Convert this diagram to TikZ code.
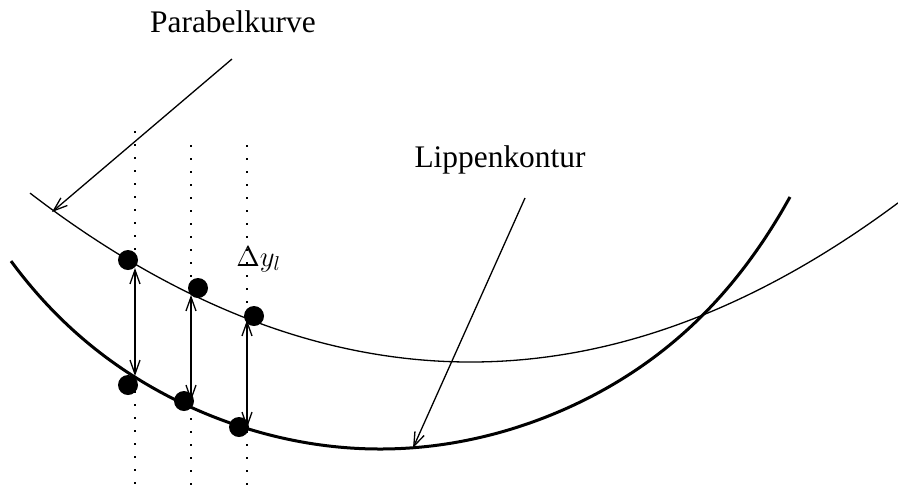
\documentclass[tikz,border=0pt]{standalone}
\usepackage{fontspec}
\setmainfont{Liberation Serif}
\usetikzlibrary{arrows.meta}

\begin{document}
\begin{tikzpicture}[x=0.5pt, y=-0.5pt, >={Straight Barb[length=7pt,width=5pt]},
  dot/.style={circle, fill, inner sep=0pt, minimum size=10pt},
  guide/.style={line width=0.6pt, dash pattern=on 1.2pt off 5.3pt},
  label/.style={inner sep=0pt, anchor=base, font=\fontsize{15.7}{18}\selectfont}]

\useasboundingbox (0,0) rectangle (898,489);

% Hilfslinien
\draw[guide] (135,131) -- (135,489);
\draw[guide] (191,145) -- (191,489);
\draw[guide] (247,145) -- (247,489);

% Parabel und Lippenkontur
\draw[line width=0.65pt] plot[domain=30:898, samples=80, smooth]
  (\x, {362 - 8.705*((\x-470.5)/100)^2});
\draw[line width=1.5pt] plot[domain=11:790, samples=90, smooth]
  (\x, {449 - 11.53*((\x-380)/100)^2 - 0.01226*(((\x-380)/100)^2)^3});

% Punkte
\node[dot] (p1) at (128,260) {};
\node[dot] (p2) at (198,288) {};
\node[dot] (p3) at (254,316) {};
\node[dot] (l1) at (128,385) {};
\node[dot] (l2) at (184,401) {};
\node[dot] (l3) at (239,427) {};

\coordinate (o1) at (135,268);
\coordinate (u1) at (135,376);
\coordinate (o2) at (191,295);
\coordinate (u2) at (191,401);
\coordinate (o3) at (247,320);
\coordinate (u3) at (247,428);

\draw[<->, line width=0.65pt] (o1) -- (u1);
\draw[<->, line width=0.65pt] (o2) -- (u2);
\draw[<->, line width=0.65pt] (o3) -- (u3);

\node[inner sep=0pt, anchor=base west] (dy) at (236,266)
  {\fontsize{13.6}{16}\selectfont$\Delta y_l$};

% Beschriftungen
\node[label] (parabel) at (233,32) {Parabelkurve};
\node[label] (lippe) at (500,167) {Lippenkontur};

\coordinate (pa) at (232,59);
\coordinate (pe) at (52,212);
\coordinate (la) at (525,198);
\coordinate (le) at (413,448);

\draw[->, line width=0.65pt] (pa) -- (pe);
\draw[->, line width=0.65pt] (la) -- (le);

\end{tikzpicture}
\end{document}
